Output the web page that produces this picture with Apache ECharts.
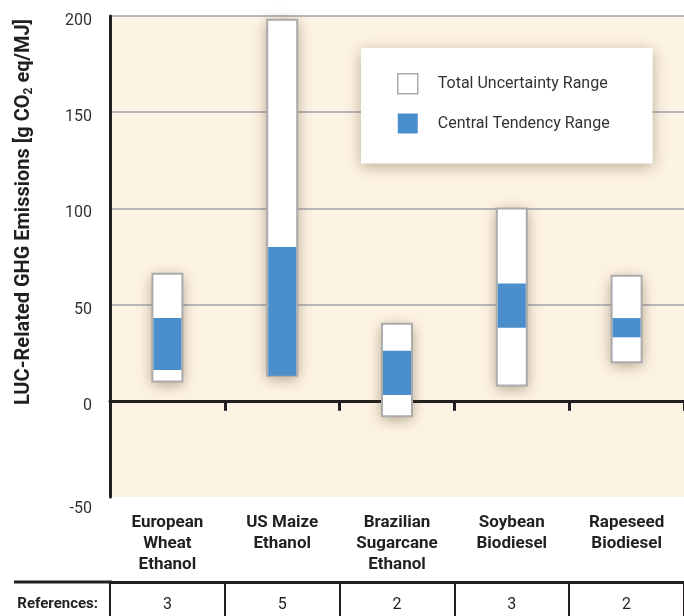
<!DOCTYPE html>
<html>
<head>
<meta charset="utf-8">
<script src="https://cdn.jsdelivr.net/npm/echarts@6/dist/echarts.min.js"></script>
<style>
  html, body { margin: 0; padding: 0; background: #fff; }
  #chart { width: 684px; height: 616px; }
</style>
</head>
<body>
<div id="chart"></div>
<script>
var categories = ["European\nWheat\nEthanol", "US Maize\nEthanol", "Brazilian\nSugarcane\nEthanol", "Soybean\nBiodiesel", "Rapeseed\nBiodiesel"];
var totalLow = [10, 13, -8, 8, 20];
var totalHigh = [66, 198, 40, 100, 65];
var centralLow = [16, 13, 3, 38, 33];
var centralHigh = [43, 80, 26, 61, 43];
var references = [3, 5, 2, 3, 2];
var yMin = -50, yMax = 200, yStep = 50;

var font = "Roboto, sans-serif";
var blue = "#4A8ECB";
var border = "#ABABAB";
var ink = "#231F20";

// white box with soft shadow + grey outline (outline drawn without shadow)
function totalItem(params, api) {
  var i = api.value(0);
  var lo = api.coord([i, api.value(1)]);
  var hi = api.coord([i, api.value(2)]);
  var shape = { x: lo[0] - 15, y: hi[1], width: 30, height: lo[1] - hi[1] };
  return {
    type: "group",
    children: [
      { type: "rect", shape: shape, style: { fill: "#fff", shadowBlur: 14, shadowColor: "rgba(90,70,40,0.5)", shadowOffsetY: 3 } },
      { type: "rect", shape: shape, style: { fill: "#fff", stroke: border, lineWidth: 2 } }
    ]
  };
}

function centralItem(params, api) {
  var i = api.value(0);
  var lo = api.coord([i, api.value(1)]);
  var hi = api.coord([i, api.value(2)]);
  return {
    type: "rect",
    shape: { x: lo[0] - 14, y: hi[1], width: 28, height: lo[1] - hi[1] },
    style: { fill: blue }
  };
}

var chart = echarts.init(document.getElementById("chart"));
var options = {
  animation: false,
  textStyle: { fontFamily: font },
  grid: {
    left: 110, right: 0, top: 16, bottom: 119,
    show: true, backgroundColor: "#FDF3E4", borderWidth: 0
  },
  legend: {
    orient: "vertical",
    left: 361, top: 48,
    padding: [25, 43, 30, 36],
    itemWidth: 20, itemHeight: 20, itemGap: 19,
    backgroundColor: "#fff",
    shadowBlur: 14, shadowColor: "rgba(90,70,40,0.4)", shadowOffsetY: 3,
    textStyle: { fontFamily: font, fontSize: 16, color: "#333", padding: [0, 0, 0, 15] },
    data: [
      { name: "Total Uncertainty Range", icon: "rect", itemStyle: { color: "#fff", borderColor: border, borderWidth: 1.5 } },
      { name: "Central Tendency Range", icon: "rect", itemStyle: { color: blue, borderWidth: 0 } }
    ]
  },
  xAxis: [
    {
      type: "category",
      data: categories,
      axisLine: { onZero: true, lineStyle: { color: ink, width: 3 } },
      axisTick: { show: true, length: 10, lineStyle: { color: ink, width: 3 } },
      axisLabel: { show: false }
    },
    {
      type: "category",
      data: categories,
      position: "bottom",
      axisLine: { show: false, onZero: false },
      axisTick: { show: false },
      axisLabel: {
        margin: 15, fontFamily: font, fontSize: 17, fontWeight: "bold",
        color: ink, lineHeight: 21
      }
    },
    {
      type: "category",
      data: categories,
      position: "bottom",
      offset: 85,
      axisLine: { onZero: false, lineStyle: { color: ink, width: 3 } },
      axisTick: { show: true, length: 36, lineStyle: { color: ink, width: 2 } },
      axisLabel: {
        margin: 15, fontFamily: font, fontSize: 16, color: ink,
        formatter: function (v, i) { return String(references[i]); }
      }
    }
  ],
  yAxis: {
    type: "value",
    min: yMin, max: yMax, interval: yStep,
    axisLine: { show: true, lineStyle: { color: ink, width: 3 } },
    axisTick: { show: false },
    axisLabel: {
      margin: 18, fontFamily: font, fontSize: 16, color: "#333",
      padding: [10, 0, 0, 0],
      formatter: function (v) { return v === yMin ? "{low|" + v + "}" : String(v); },
      rich: { low: { fontFamily: font, fontSize: 16, color: "#333", padding: [14, 0, 0, 0] } }
    },
    splitLine: {
      show: true,
      lineStyle: { color: ["rgba(0,0,0,0)", "#B8B8B8", "#B8B8B8", "#B8B8B8", "#B8B8B8", "#B8B8B8"], width: 2 }
    }
  },
  graphic: [
    {
      type: "text",
      x: 24, y: 212,
      rotation: Math.PI / 2,
      style: {
        text: "LUC-Related GHG Emissions [g CO{sub|2} eq/MJ]",
        fontFamily: font, fontSize: 20, fontWeight: "bold", fill: ink,
        align: "center", verticalAlign: "middle",
        rich: { sub: { fontSize: 12, fontWeight: "bold", fontFamily: font, padding: [10, 0, 0, 0] } }
      }
    },
    {
      type: "line",
      shape: { x1: 14, y1: 582, x2: 112, y2: 582 },
      style: { stroke: ink, lineWidth: 3 }
    },
    {
      type: "text",
      x: 98, y: 604,
      style: {
        text: "References:", fontFamily: font, fontSize: 15, fontWeight: "bold",
        fill: ink, align: "right", verticalAlign: "middle"
      }
    }
  ],
  series: [
    {
      name: "Total Uncertainty Range",
      type: "custom",
      renderItem: totalItem,
      data: categories.map(function (c, i) { return [i, totalLow[i], totalHigh[i]]; }),
      z: 3
    },
    {
      name: "Central Tendency Range",
      type: "custom",
      renderItem: centralItem,
      data: categories.map(function (c, i) { return [i, centralLow[i], centralHigh[i]]; }),
      z: 4
    }
  ]
};
chart.setOption(options, true);
</script>
</body>
</html>
